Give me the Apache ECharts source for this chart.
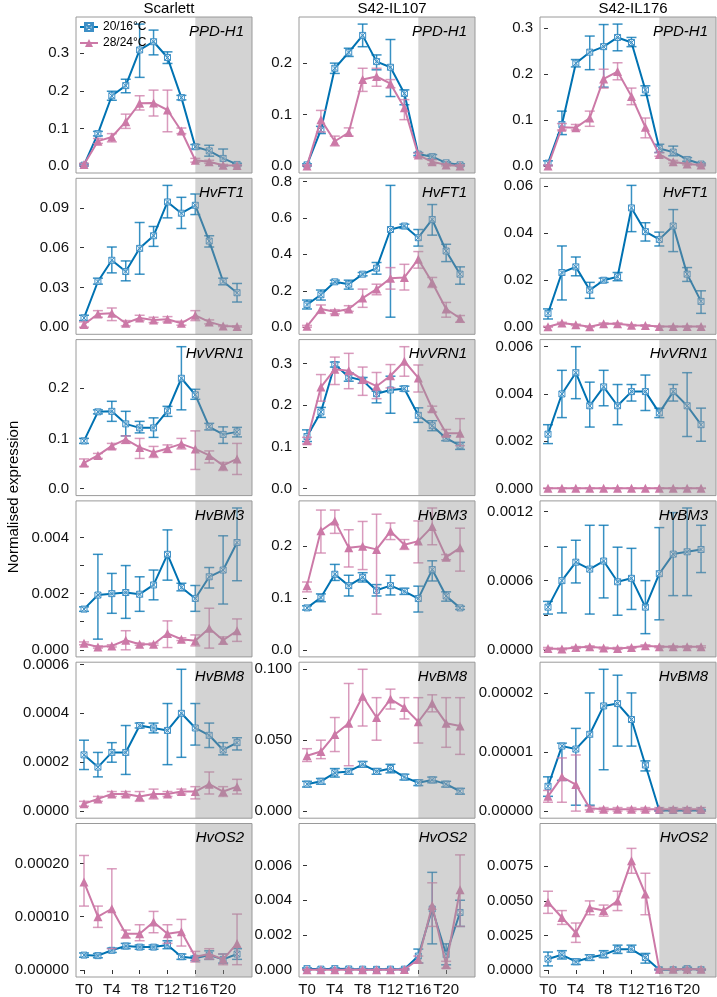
<!DOCTYPE html>
<html><head><meta charset="utf-8">
<script src="https://cdn.jsdelivr.net/npm/echarts@6/dist/echarts.min.js"></script>
<style>html,body{margin:0;padding:0;background:#fff}#c{width:717px;height:997px}</style>
</head><body><div id="c"></div>
<script>
// ---------- data ----------
const times = [0,2,4,6,8,10,12,14,16,18,20,22];
const xTickLabels = ['T0','T4','T8','T12','T16','T20'];
const shadeStart = 16;
const xDomain = [0, 23];
const lines = ['Scarlett','S42-IL107','S42-IL176'];
const genes = ['PPD-H1','HvFT1','HvVRN1','HvBM3','HvBM8','HvOS2'];
const seriesNames = ['20/16°C','28/24°C'];

// Scarlett PPD-H1
const S_PPD_cool   = [0.002,0.086,0.187,0.214,0.309,0.331,0.289,0.182,0.051,0.040,0.020,0.004];
const S_PPD_coolLo = [0.000,0.080,0.175,0.195,0.236,0.296,0.273,0.176,0.045,0.026,0.000,0.001];
const S_PPD_coolHi = [0.005,0.092,0.199,0.231,0.378,0.362,0.304,0.188,0.057,0.055,0.045,0.007];
const S_PPD_warm   = [0.004,0.066,0.077,0.118,0.167,0.168,0.149,0.093,0.015,0.011,0.002,0.001];
const S_PPD_warmLo = [0.001,0.060,0.064,0.100,0.149,0.133,0.091,0.086,0.010,0.007,0.000,0.000];
const S_PPD_warmHi = [0.007,0.073,0.086,0.138,0.187,0.202,0.202,0.101,0.020,0.015,0.004,0.003];
// S42-IL107 PPD-H1
const A_PPD_cool   = [0.002,0.070,0.190,0.221,0.254,0.203,0.192,0.141,0.023,0.018,0.006,0.002];
const A_PPD_coolLo = [0.000,0.063,0.180,0.213,0.232,0.187,0.135,0.119,0.020,0.014,0.004,0.000];
const A_PPD_coolHi = [0.004,0.077,0.200,0.229,0.276,0.216,0.246,0.148,0.026,0.022,0.008,0.004];
const A_PPD_warm   = [0.000,0.090,0.048,0.065,0.168,0.174,0.160,0.113,0.021,0.008,0.002,0.000];
const A_PPD_warmLo = [0.000,0.066,0.039,0.058,0.145,0.155,0.152,0.090,0.017,0.004,0.000,0.000];
const A_PPD_warmHi = [0.002,0.108,0.058,0.074,0.190,0.190,0.168,0.129,0.025,0.012,0.004,0.002];
// S42-IL176 PPD-H1
const B_PPD_cool   = [0.006,0.090,0.223,0.247,0.259,0.279,0.268,0.165,0.038,0.030,0.014,0.004];
const B_PPD_coolLo = [0.001,0.068,0.215,0.209,0.171,0.250,0.259,0.153,0.029,0.022,0.010,0.002];
const B_PPD_coolHi = [0.011,0.119,0.231,0.282,0.307,0.308,0.279,0.174,0.047,0.043,0.018,0.006];
const B_PPD_warm   = [0.000,0.084,0.083,0.104,0.189,0.205,0.151,0.084,0.025,0.009,0.004,0.002];
const B_PPD_warmLo = [0.000,0.078,0.078,0.086,0.169,0.187,0.133,0.061,0.021,0.006,0.002,0.000];
const B_PPD_warmHi = [0.002,0.092,0.090,0.119,0.210,0.224,0.169,0.104,0.029,0.012,0.006,0.004];

// Scarlett HvFT1
const S_FT1_cool   = [0.007,0.0345,0.0505,0.042,0.0595,0.069,0.0945,0.086,0.092,0.065,0.0345,0.026];
const S_FT1_coolLo = [0.005,0.0325,0.041,0.035,0.040,0.061,0.0825,0.0745,0.085,0.0605,0.032,0.019];
const S_FT1_coolHi = [0.009,0.037,0.0605,0.050,0.079,0.076,0.107,0.098,0.1005,0.069,0.037,0.033];
const S_FT1_warm   = [0.002,0.010,0.0105,0.003,0.007,0.0055,0.006,0.003,0.009,0.004,0.001,0.0005];
const S_FT1_warmLo = [0.000,0.0075,0.005,0.001,0.005,0.0035,0.004,0.0015,0.005,0.0025,0.0005,0.000];
const S_FT1_warmHi = [0.004,0.0125,0.0145,0.005,0.009,0.0075,0.008,0.0045,0.0125,0.0055,0.0015,0.001];
// S42-IL107 HvFT1
const A_FT1_cool   = [0.124,0.178,0.249,0.236,0.291,0.324,0.536,0.555,0.491,0.591,0.418,0.291];
const A_FT1_coolLo = [0.100,0.149,0.240,0.209,0.282,0.291,0.055,0.542,0.445,0.505,0.360,0.236];
const A_FT1_coolHi = [0.149,0.204,0.258,0.258,0.300,0.355,0.778,0.565,0.536,0.673,0.455,0.331];
const A_FT1_warm   = [0.005,0.100,0.085,0.100,0.160,0.209,0.269,0.273,0.373,0.245,0.100,0.049];
const A_FT1_warmLo = [0.000,0.076,0.073,0.087,0.109,0.178,0.209,0.204,0.324,0.218,0.055,0.027];
const A_FT1_warmHi = [0.010,0.122,0.096,0.118,0.209,0.236,0.327,0.345,0.415,0.273,0.136,0.064];
// S42-IL176 HvFT1
const B_FT1_cool   = [0.0059,0.0233,0.0257,0.0158,0.0200,0.0215,0.0508,0.0407,0.0374,0.0431,0.0226,0.0110];
const B_FT1_coolLo = [0.0035,0.0116,0.0219,0.0123,0.0191,0.0198,0.0407,0.0367,0.0346,0.0322,0.0195,0.0059];
const B_FT1_coolHi = [0.0078,0.0346,0.0299,0.0191,0.0209,0.0233,0.0604,0.0445,0.0405,0.0501,0.0254,0.0155];
const B_FT1_warm   = [0.0002,0.0018,0.0010,0.0002,0.0015,0.0015,0.0008,0.0007,0.0003,0.0003,0.0003,0.0003];
const B_FT1_warmLo = [0.0000,0.0015,0.0007,0.0000,0.0012,0.0012,0.0005,0.0004,0.0001,0.0001,0.0001,0.0001];
const B_FT1_warmHi = [0.0004,0.0021,0.0013,0.0004,0.0018,0.0018,0.0011,0.0010,0.0005,0.0005,0.0005,0.0005];

// Scarlett HvVRN1
const S_VRN_cool   = [0.095,0.153,0.154,0.129,0.121,0.121,0.155,0.220,0.187,0.123,0.108,0.113];
const S_VRN_coolLo = [0.090,0.149,0.134,0.105,0.111,0.102,0.144,0.157,0.178,0.117,0.090,0.103];
const S_VRN_coolHi = [0.100,0.157,0.174,0.154,0.134,0.141,0.164,0.283,0.198,0.130,0.123,0.122];
const S_VRN_warm   = [0.051,0.066,0.085,0.098,0.082,0.072,0.080,0.089,0.079,0.066,0.046,0.059];
const S_VRN_warmLo = [0.044,0.060,0.079,0.090,0.060,0.062,0.072,0.079,0.038,0.051,0.036,0.028];
const S_VRN_warmHi = [0.059,0.070,0.090,0.105,0.100,0.084,0.087,0.100,0.115,0.075,0.052,0.090];
// S42-IL107 HvVRN1
const A_VRN_cool   = [0.125,0.184,0.298,0.268,0.260,0.228,0.237,0.240,0.176,0.151,0.121,0.103];
const A_VRN_coolLo = [0.113,0.171,0.292,0.258,0.253,0.206,0.181,0.234,0.159,0.139,0.115,0.094];
const A_VRN_coolHi = [0.141,0.195,0.304,0.278,0.267,0.234,0.270,0.246,0.194,0.163,0.127,0.111];
const A_VRN_warm   = [0.115,0.244,0.287,0.283,0.262,0.246,0.271,0.306,0.266,0.192,0.133,0.133];
const A_VRN_warmLo = [0.107,0.210,0.250,0.240,0.224,0.216,0.242,0.270,0.232,0.184,0.125,0.103];
const A_VRN_warmHi = [0.123,0.274,0.316,0.325,0.292,0.279,0.298,0.341,0.297,0.198,0.142,0.168];
// S42-IL176 HvVRN1
const B_VRN_cool   = [0.0023,0.0040,0.0049,0.0035,0.0043,0.0035,0.0041,0.0041,0.0032,0.0041,0.0035,0.0027];
const B_VRN_coolLo = [0.0019,0.0030,0.0038,0.0026,0.0035,0.0027,0.0037,0.0033,0.0030,0.0037,0.0022,0.0020];
const B_VRN_coolHi = [0.0027,0.0050,0.0060,0.0045,0.0050,0.0044,0.0044,0.0048,0.0034,0.0044,0.0049,0.0034];
const B_VRN_warm   = [0.00001,0.00001,0.00001,0.00001,0.00001,0.00001,0.00001,0.00001,0.00001,0.00001,0.00001,0.00001];
const B_VRN_warmLo = [0.00000,0.00000,0.00000,0.00000,0.00000,0.00000,0.00000,0.00000,0.00000,0.00000,0.00000,0.00000];
const B_VRN_warmHi = [0.00002,0.00002,0.00002,0.00002,0.00002,0.00002,0.00002,0.00002,0.00002,0.00002,0.00002,0.00002];

// Scarlett HvBM3
const S_BM3_cool   = [0.00145,0.00195,0.00200,0.00204,0.00198,0.00231,0.00340,0.00222,0.00183,0.00260,0.00284,0.00382];
const S_BM3_coolLo = [0.00137,0.00038,0.00130,0.00112,0.00137,0.00178,0.00248,0.00210,0.00137,0.00220,0.00163,0.00246];
const S_BM3_coolHi = [0.00153,0.00340,0.00272,0.00300,0.00260,0.00284,0.00427,0.00237,0.00229,0.00293,0.00406,0.00505];
const S_BM3_warm   = [0.00023,0.00010,0.00014,0.00034,0.00020,0.00020,0.00058,0.00038,0.00032,0.00077,0.00034,0.00068];
const S_BM3_warmLo = [0.00018,0.00006,0.00010,0.00000,0.00016,0.00016,0.00008,0.00033,0.00014,0.00006,0.00020,0.00030];
const S_BM3_warmHi = [0.00028,0.00014,0.00018,0.00068,0.00024,0.00024,0.00103,0.00043,0.00053,0.00148,0.00046,0.00110];
// S42-IL107 HvBM3
const A_BM3_cool   = [0.081,0.101,0.146,0.124,0.140,0.115,0.124,0.113,0.099,0.155,0.104,0.081];
const A_BM3_coolLo = [0.077,0.093,0.134,0.104,0.131,0.104,0.106,0.107,0.073,0.133,0.094,0.078];
const A_BM3_coolHi = [0.085,0.108,0.165,0.144,0.149,0.126,0.144,0.119,0.123,0.172,0.112,0.084];
const A_BM3_warm   = [0.124,0.230,0.249,0.197,0.200,0.194,0.229,0.203,0.210,0.238,0.179,0.197];
const A_BM3_warmLo = [0.112,0.187,0.225,0.160,0.155,0.069,0.213,0.194,0.168,0.203,0.174,0.152];
const A_BM3_warmHi = [0.131,0.270,0.270,0.232,0.248,0.262,0.245,0.213,0.249,0.274,0.184,0.235];
// S42-IL176 HvBM3
const B_BM3_cool   = [0.00037,0.00060,0.00076,0.00070,0.00077,0.00059,0.00062,0.00037,0.00066,0.00083,0.00085,0.00087];
const B_BM3_coolLo = [0.00031,0.00032,0.00058,0.00031,0.00045,0.00030,0.00035,0.00014,0.00026,0.00047,0.00047,0.00067];
const B_BM3_coolHi = [0.00042,0.00089,0.00095,0.00108,0.00108,0.00089,0.00088,0.00060,0.00106,0.00119,0.00123,0.00108];
const B_BM3_warm   = [0.000012,0.000006,0.000020,0.000026,0.000015,0.000012,0.000020,0.000035,0.000026,0.000026,0.000026,0.000026];
const B_BM3_warmLo = [0.000004,0.000000,0.000012,0.000018,0.000007,0.000004,0.000012,0.000027,0.000018,0.000018,0.000018,0.000018];
const B_BM3_warmHi = [0.000020,0.000014,0.000028,0.000034,0.000023,0.000020,0.000028,0.000043,0.000034,0.000034,0.000034,0.000034];

// Scarlett HvBM8
const S_BM8_cool   = [0.00023,0.00018,0.00024,0.00024,0.00035,0.00034,0.00033,0.00040,0.00034,0.00031,0.00025,0.00028];
const S_BM8_coolLo = [0.00017,0.00014,0.00020,0.00015,0.00034,0.00032,0.00019,0.00022,0.00027,0.00026,0.00023,0.00025];
const S_BM8_coolHi = [0.00029,0.00024,0.00028,0.00035,0.00036,0.00036,0.00044,0.00058,0.00044,0.00036,0.00028,0.00030];
const S_BM8_warm   = [0.00003,0.00005,0.00007,0.00007,0.00006,0.00007,0.00007,0.00008,0.00008,0.00011,0.00008,0.00010];
const S_BM8_warmLo = [0.00002,0.00004,0.00006,0.00006,0.00004,0.00005,0.00006,0.00007,0.00005,0.00007,0.00006,0.00007];
const S_BM8_warmHi = [0.00004,0.00006,0.00008,0.00008,0.00008,0.00009,0.00008,0.00009,0.00010,0.00016,0.00010,0.00013];
// S42-IL107 HvBM8
const A_BM8_cool   = [0.019,0.021,0.027,0.028,0.033,0.028,0.030,0.024,0.020,0.022,0.019,0.014];
const A_BM8_coolLo = [0.017,0.019,0.024,0.026,0.031,0.026,0.027,0.022,0.018,0.020,0.017,0.012];
const A_BM8_coolHi = [0.021,0.023,0.030,0.030,0.035,0.030,0.033,0.026,0.022,0.024,0.021,0.016];
const A_BM8_warm   = [0.039,0.042,0.054,0.062,0.081,0.066,0.079,0.073,0.063,0.076,0.062,0.060];
const A_BM8_warmLo = [0.035,0.037,0.042,0.032,0.060,0.050,0.072,0.065,0.048,0.070,0.045,0.040];
const A_BM8_warmHi = [0.044,0.050,0.066,0.090,0.100,0.080,0.086,0.080,0.080,0.082,0.080,0.080];
// S42-IL176 HvBM8
const B_BM8_cool   = [0.0000042,0.000011,0.0000105,0.000013,0.0000178,0.0000182,0.0000155,0.0000078,0.0000001,0.0000001,0.0000001,0.0000001];
const B_BM8_coolLo = [0.0000025,0.0000052,0.000001,0.000001,0.000007,0.000011,0.000011,0.0000068,0.0,0.0,0.0,0.0];
const B_BM8_coolHi = [0.0000058,0.0000115,0.000014,0.00002,0.000024,0.000023,0.00002,0.0000085,0.0000002,0.0000002,0.0000002,0.0000002];
const B_BM8_warm   = [0.0000025,0.0000058,0.0000045,0.0000005,0.0000003,0.0000003,0.0000003,0.0000003,0.0000003,0.0000003,0.0000003,0.0000003];
const B_BM8_warmLo = [0.0000015,0.0000015,0.0,0.0000002,0.0,0.0,0.0,0.0,0.0,0.0,0.0,0.0];
const B_BM8_warmHi = [0.0000035,0.000009,0.0000095,0.0000008,0.0000006,0.0000006,0.0000006,0.0000006,0.0000006,0.0000006,0.0000006,0.0000006];

// Scarlett HvOS2
const S_OS2_cool   = [0.000028,0.000027,0.000037,0.000045,0.000043,0.000043,0.000047,0.000025,0.000022,0.000028,0.000020,0.000030];
const S_OS2_coolLo = [0.000024,0.000023,0.000033,0.000040,0.000039,0.000039,0.000040,0.000020,0.000018,0.000020,0.000013,0.000020];
const S_OS2_coolHi = [0.000032,0.000031,0.000041,0.000050,0.000047,0.000047,0.000055,0.000030,0.000026,0.000036,0.000030,0.000040];
const S_OS2_warm   = [0.000165,0.000100,0.000115,0.000068,0.000068,0.000090,0.000068,0.000072,0.000025,0.000030,0.000020,0.000050];
const S_OS2_warmLo = [0.000120,0.000080,0.000040,0.000060,0.000055,0.000070,0.000050,0.000045,0.000015,0.000020,0.000010,0.000010];
const S_OS2_warmHi = [0.000215,0.000120,0.000190,0.000075,0.000085,0.000110,0.000085,0.000095,0.000035,0.000040,0.000030,0.000105];
// S42-IL107 HvOS2
const A_OS2_cool   = [0.00008,0.00005,0.00008,0.00006,0.00005,0.00004,0.00005,0.00005,0.0008,0.0035,0.0009,0.0033];
const A_OS2_coolLo = [0.00004,0.00001,0.00004,0.00003,0.00002,0.00001,0.00002,0.00001,0.0004,0.0015,0.0003,0.0025];
const A_OS2_coolHi = [0.00012,0.00009,0.00012,0.00009,0.00008,0.00007,0.00008,0.00009,0.0012,0.0056,0.0015,0.0040];
const A_OS2_warm   = [0.00002,0.00002,0.00002,0.00002,0.00002,0.00002,0.00002,0.00003,0.0006,0.0037,0.0003,0.0046];
const A_OS2_warmLo = [0.00000,0.00000,0.00000,0.00000,0.00000,0.00000,0.00000,0.00000,0.0004,0.0025,0.0001,0.0025];
const A_OS2_warmHi = [0.00004,0.00004,0.00004,0.00004,0.00004,0.00004,0.00004,0.00006,0.0008,0.0050,0.0005,0.0066];
// S42-IL176 HvOS2
const B_OS2_cool   = [0.0008,0.0011,0.0006,0.0009,0.0011,0.0015,0.0015,0.0009,0.00002,0.00002,0.0001,0.00002];
const B_OS2_coolLo = [0.0003,0.0008,0.0004,0.0007,0.0009,0.0012,0.0013,0.0005,0.0,0.0,0.0,0.0];
const B_OS2_coolHi = [0.0013,0.0014,0.0008,0.0011,0.0014,0.0018,0.0018,0.0012,0.00004,0.00004,0.0002,0.00004];
const B_OS2_warm   = [0.0049,0.0038,0.0027,0.0045,0.0043,0.0050,0.0079,0.0055,0.00005,0.00005,0.00005,0.00005];
const B_OS2_warmLo = [0.0041,0.0033,0.0020,0.0040,0.0039,0.0043,0.0070,0.0040,0.0,0.0,0.0,0.0];
const B_OS2_warmHi = [0.0057,0.0043,0.0034,0.0050,0.0047,0.0057,0.0088,0.0070,0.0001,0.0001,0.0001,0.0001];

// y tick labels per panel (row = gene, col = line)
const yTicks = [
  [['0.0','0.1','0.2','0.3'], ['0.0','0.1','0.2'], ['0.0','0.1','0.2','0.3']],
  [['0.00','0.03','0.06','0.09'], ['0.0','0.2','0.4','0.6','0.8'], ['0.00','0.02','0.04','0.06']],
  [['0.0','0.1','0.2'], ['0.0','0.1','0.2','0.3'], ['0.000','0.002','0.004','0.006']],
  [['0.000','0.002','0.004'], ['0.0','0.1','0.2'], ['0.0000','0.0006','0.0012']],
  [['0.0000','0.0002','0.0004','0.0006'], ['0.000','0.050','0.100'], ['0.00000','0.00001','0.00002']],
  [['0.00000','0.00010','0.00020'], ['0.000','0.002','0.004','0.006'], ['0.0000','0.0025','0.0050','0.0075']]
];
// unlabelled (minor) ticks
const yMinorTicks = [
  [[],[],[]],
  [[],[],[]],
  [[],[],[]],
  [[0.001,0.003],[],[0.0003,0.0009]],
  [[],[],[]],
  [[],[],[]]
];
// fixed upper y limits (null = 5% padding around data)
const yUpperLimit = [
  [null,null,null],[null,null,null],[null,null,null],
  [null,null,null],[null,null,null],
  [0.000275, 0.0084, 0.0106]
];

const panelData = [
  [[S_PPD_cool,S_PPD_coolLo,S_PPD_coolHi,S_PPD_warm,S_PPD_warmLo,S_PPD_warmHi],
   [A_PPD_cool,A_PPD_coolLo,A_PPD_coolHi,A_PPD_warm,A_PPD_warmLo,A_PPD_warmHi],
   [B_PPD_cool,B_PPD_coolLo,B_PPD_coolHi,B_PPD_warm,B_PPD_warmLo,B_PPD_warmHi]],
  [[S_FT1_cool,S_FT1_coolLo,S_FT1_coolHi,S_FT1_warm,S_FT1_warmLo,S_FT1_warmHi],
   [A_FT1_cool,A_FT1_coolLo,A_FT1_coolHi,A_FT1_warm,A_FT1_warmLo,A_FT1_warmHi],
   [B_FT1_cool,B_FT1_coolLo,B_FT1_coolHi,B_FT1_warm,B_FT1_warmLo,B_FT1_warmHi]],
  [[S_VRN_cool,S_VRN_coolLo,S_VRN_coolHi,S_VRN_warm,S_VRN_warmLo,S_VRN_warmHi],
   [A_VRN_cool,A_VRN_coolLo,A_VRN_coolHi,A_VRN_warm,A_VRN_warmLo,A_VRN_warmHi],
   [B_VRN_cool,B_VRN_coolLo,B_VRN_coolHi,B_VRN_warm,B_VRN_warmLo,B_VRN_warmHi]],
  [[S_BM3_cool,S_BM3_coolLo,S_BM3_coolHi,S_BM3_warm,S_BM3_warmLo,S_BM3_warmHi],
   [A_BM3_cool,A_BM3_coolLo,A_BM3_coolHi,A_BM3_warm,A_BM3_warmLo,A_BM3_warmHi],
   [B_BM3_cool,B_BM3_coolLo,B_BM3_coolHi,B_BM3_warm,B_BM3_warmLo,B_BM3_warmHi]],
  [[S_BM8_cool,S_BM8_coolLo,S_BM8_coolHi,S_BM8_warm,S_BM8_warmLo,S_BM8_warmHi],
   [A_BM8_cool,A_BM8_coolLo,A_BM8_coolHi,A_BM8_warm,A_BM8_warmLo,A_BM8_warmHi],
   [B_BM8_cool,B_BM8_coolLo,B_BM8_coolHi,B_BM8_warm,B_BM8_warmLo,B_BM8_warmHi]],
  [[S_OS2_cool,S_OS2_coolLo,S_OS2_coolHi,S_OS2_warm,S_OS2_warmLo,S_OS2_warmHi],
   [A_OS2_cool,A_OS2_coolLo,A_OS2_coolHi,A_OS2_warm,A_OS2_warmLo,A_OS2_warmHi],
   [B_OS2_cool,B_OS2_coolLo,B_OS2_coolHi,B_OS2_warm,B_OS2_warmLo,B_OS2_warmHi]]
];

// ---------- layout & style ----------
const FONT = '"Liberation Sans", Arial, Helvetica, sans-serif';
const BLUE = '#0072B2', PINK = '#CC79A7';
const BLUE_ERR = 'rgba(0,114,178,0.78)', PINK_ERR = 'rgba(204,121,167,0.75)';
const colLeft = [76, 299, 540];
const colWidth = 176;
const rowTop0 = 17, rowStep = 161.3, rowHeight = 156;
const squareX = 'path://M0,0L10,0L10,10L0,10ZM0,0L10,10M10,0L0,10';

function expand(lo, hi) { const p = (hi - lo) * 0.05; return [lo - p, hi + p]; }
const xRange = expand(xDomain[0], xDomain[1]);

const grids = [], xAxes = [], yAxes = [], series = [], titles = [];
let gi = 0;
for (let r = 0; r < 6; r++) {
  for (let c = 0; c < 3; c++) {
    const [cool, coolLo, coolHi, warm, warmLo, warmHi] = panelData[r][c];
    const all = [0].concat(cool, coolLo, coolHi, warm, warmLo, warmHi);
    const lim = yUpperLimit[r][c];
    const dmin = Math.min(...all);
    let yr = expand(dmin, Math.max(...all));
    if (lim !== null) yr = [dmin - (lim - dmin) * 0.05 / 1.05, lim];
    const labels = yTicks[r][c];
    const major = labels.map(parseFloat);
    const dec = (labels[0].split('.')[1] || '').length;
    const top = rowTop0 + r * rowStep;
    grids.push({ left: colLeft[c], top: top, width: colWidth, height: rowHeight,
      show: true, borderColor: '#9a9a9a', borderWidth: 1, backgroundColor: '#fff' });
    const bottomRow = r === 5;
    const xt = xTickLabels.map(s => +s.slice(1));
    xAxes.push({ type: 'value', gridIndex: gi, min: xRange[0], max: xRange[1],
      axisLine: { show: false }, splitLine: { show: false },
      axisTick: { show: bottomRow, length: 4, lineStyle: { color: '#333' }, customValues: xt },
      axisLabel: { show: bottomRow, margin: 5, fontSize: 15, color: '#111', fontFamily: FONT,
        customValues: xt, formatter: v => 'T' + v } });
    yAxes.push({ type: 'value', gridIndex: gi, min: yr[0], max: yr[1],
      axisLine: { show: false }, splitLine: { show: false },
      axisTick: { show: true, length: 4, lineStyle: { color: '#333' },
        customValues: major.concat(yMinorTicks[r][c]) },
      axisLabel: { margin: 7, fontSize: 15, color: '#111', fontFamily: FONT,
        customValues: major, formatter: v => v.toFixed(dec) } });

    const errSeries = (lo, hi, color, z) => ({
      type: 'custom', xAxisIndex: gi, yAxisIndex: gi, z: z, silent: true,
      data: times.map((t, i) => [t, lo[i], hi[i]]),
      encode: { x: 0, y: [1, 2] },
      renderItem: (params, api) => {
        const a = api.coord([api.value(0), api.value(1)]);
        const b = api.coord([api.value(0), api.value(2)]);
        const w = 5;
        const st = { stroke: color, lineWidth: 1.5 };
        return { type: 'group', children: [
          { type: 'line', shape: { x1: a[0], y1: a[1], x2: b[0], y2: b[1] }, style: st },
          { type: 'line', shape: { x1: a[0] - w, y1: a[1], x2: a[0] + w, y2: a[1] }, style: st },
          { type: 'line', shape: { x1: b[0] - w, y1: b[1], x2: b[0] + w, y2: b[1] }, style: st }
        ] };
      }
    });
    series.push({ type: 'line', name: seriesNames[0], xAxisIndex: gi, yAxisIndex: gi, z: 3,
      data: times.map((t, i) => [t, cool[i]]), symbol: squareX, symbolSize: 6,
      lineStyle: { color: BLUE, width: 2 },
      itemStyle: { color: 'rgba(255,255,255,0.5)', borderColor: '#3d8fc6', borderWidth: 1 } });
    series.push({ type: 'line', name: seriesNames[1], xAxisIndex: gi, yAxisIndex: gi, z: 5,
      data: times.map((t, i) => [t, warm[i]]), symbol: 'triangle', symbolSize: 9,
      lineStyle: { color: PINK, width: 2 }, itemStyle: { color: PINK } });
    series.push(errSeries(coolLo, coolHi, BLUE_ERR, 2));
    series.push(errSeries(warmLo, warmHi, PINK_ERR, 4));
    // shaded period
    series.push({ type: 'custom', xAxisIndex: gi, yAxisIndex: gi, z: 6, silent: true,
      data: [[shadeStart, yr[0]]],
      renderItem: (params, api) => {
        const cs = params.coordSys;
        const x0 = api.coord([api.value(0), api.value(1)])[0];
        return { type: 'rect', shape: { x: x0, y: cs.y, width: cs.x + cs.width - x0, height: cs.height },
          style: { fill: 'rgba(150,150,150,0.42)' } };
      } });
    titles.push({ text: genes[r], right: 717 - (colLeft[c] + colWidth) + 3, top: top + 2, z: 10,
      textStyle: { fontSize: 15, fontStyle: 'italic', fontWeight: 'normal', color: '#000', fontFamily: FONT } });
    gi++;
  }
}
lines.forEach((name, c) => titles.push({ text: name, left: colLeft[c] + colWidth / 2, top: 0, padding: [1, 5, 5, 5],
  textAlign: 'center', textStyle: { fontSize: 15, fontWeight: 'normal', color: '#000', fontFamily: FONT } }));

const chart = echarts.init(document.getElementById('c'), null, { renderer: 'canvas' });
chart.setOption({
  animation: false,
  backgroundColor: '#fff',
  title: titles,
  legend: { data: seriesNames, left: 74, top: 16, orient: 'vertical', itemGap: 4, itemWidth: 18, itemHeight: 10,
    textStyle: { fontSize: 12, color: '#000', fontFamily: FONT }, selectedMode: false, z: 10 },
  graphic: [{ type: 'text', x: 14, y: 497, rotation: Math.PI / 2,
    style: { text: 'Normalised expression', fontSize: 15, fontFamily: FONT, fill: '#000', align: 'center', verticalAlign: 'middle' } }],
  grid: grids, xAxis: xAxes, yAxis: yAxes, series: series
});
</script></body></html>
